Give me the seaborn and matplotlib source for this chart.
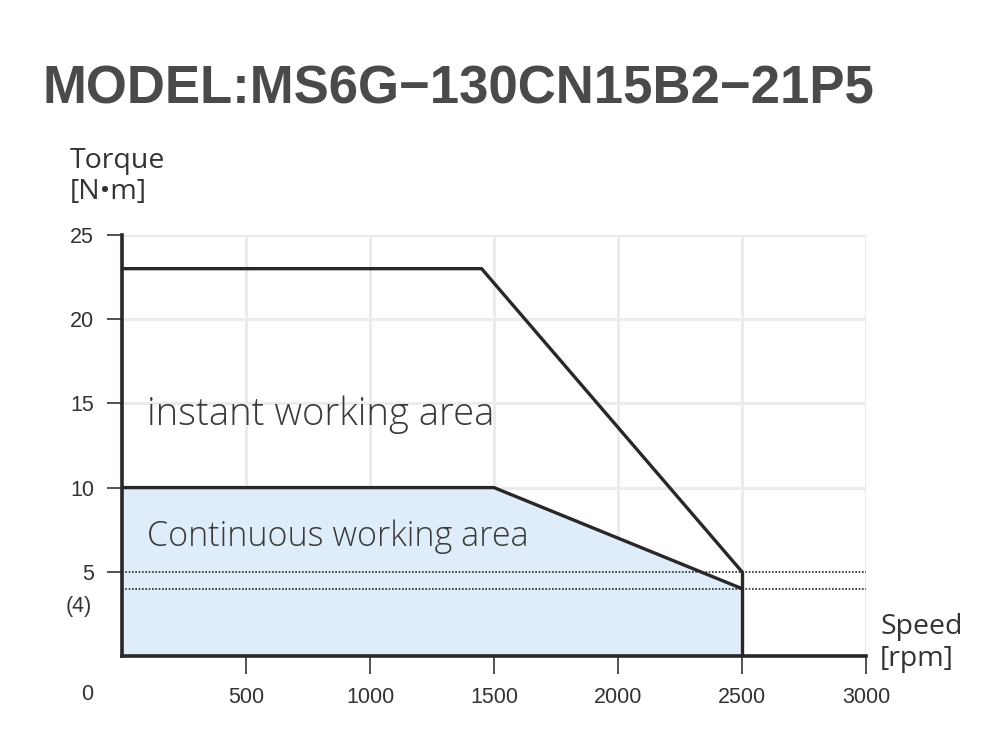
import matplotlib
matplotlib.use("Agg")
import matplotlib.pyplot as plt
import pandas as pd
import seaborn as sns

# données
speed_instant = [0, 1450, 2500]
torque_instant = [23, 23, 5]
speed_cont = [0, 1500, 2500]
torque_cont = [10, 10, 4]
speed_limit = [2500, 2500]
torque_limit = [5, 0]
x_ticks = [500, 1000, 1500, 2000, 2500, 3000]
y_ticks = [5, 10, 15, 20, 25]
title = "MODEL:MS6G\u2212130CN15B2\u221221P5"

line_col = "#2b2627"
txt_col = "#333333"

sns.set_style("white")
plt.rcParams["font.family"] = ["Liberation Sans", "DejaVu Sans"]

fig = plt.figure(figsize=(10.05, 7.51), dpi=100)
ax = fig.add_axes([0.1214, 0.1265, 0.7403, 0.5606])

df_inst = pd.DataFrame({"speed": speed_instant, "torque": torque_instant})
df_cont = pd.DataFrame({"speed": speed_cont, "torque": torque_cont})

# zone continue remplie
ax.fill_between(speed_cont, torque_cont, 0, color="#deedf9", lw=0, zorder=1)

# grille claire
for x in x_ticks:
    ax.axvline(x, color="#ebebeb", lw=2.2, zorder=0)
for y in y_ticks[1:]:
    ax.axhline(y, color="#ebebeb", lw=2.2, zorder=0)

# lignes pointillées 5 et (4)
ax.plot([0, 3000], [5, 5], color=line_col, lw=1.2, ls=(0, (1, 1)), zorder=2)
ax.plot([0, 3000], [4, 4], color=line_col, lw=1.2, ls=(0, (1, 1)), zorder=2)

sns.lineplot(data=df_inst, x="speed", y="torque", ax=ax, color=line_col, lw=2.4,
             sort=False, estimator=None, zorder=3)
sns.lineplot(data=df_cont, x="speed", y="torque", ax=ax, color=line_col, lw=2.4,
             sort=False, estimator=None, zorder=3)
ax.plot(speed_limit, torque_limit, color=line_col, lw=2.4, zorder=3)

ax.set_xlim(0, 3000)
ax.set_ylim(0, 25)
ax.set_xlabel("")
ax.set_ylabel("")

for s in ["top", "right"]:
    ax.spines[s].set_visible(False)
for s in ["left", "bottom"]:
    ax.spines[s].set_color(line_col)
    ax.spines[s].set_linewidth(2.6)
    ax.spines[s].set_zorder(4)

ax.set_xticks(x_ticks)
ax.set_yticks(y_ticks)
ax.tick_params(axis="x", direction="out", length=13, width=1.3, color="#444444",
               pad=9, labelsize=15.5, labelcolor=txt_col, bottom=True)
ax.tick_params(axis="y", direction="out", length=11, width=1.3, color="#444444",
               pad=9, labelsize=15.5, labelcolor=txt_col, left=True)

# étiquettes spéciales
ax.annotate("0", xy=(0, 0), xycoords="data", xytext=(-25, -28), textcoords="offset points",
            ha="center", va="center", fontsize=15.5, color=txt_col)
ax.annotate("(4)", xy=(0, 4), xycoords="data", xytext=(-31, -13), textcoords="offset points",
            ha="center", va="center", fontsize=15.5, color=txt_col)

# titres des axes
fig.text(70 / 1005, 1 - 161 / 751, "Torque", fontsize=20.5, color=txt_col, family="Open Sans",
         ha="left", va="center")
fig.text(70 / 1005, 1 - 192 / 751, "[N\u2022m]", fontsize=20.5, color=txt_col, family="Open Sans",
         ha="left", va="center")
fig.text(880 / 1005, 1 - 627 / 751, "Speed", fontsize=20.5, color=txt_col, family="Open Sans",
         ha="left", va="center")
fig.text(880 / 1005, 1 - 659 / 751, "[rpm]", fontsize=20.5, color=txt_col, family="Open Sans",
         ha="left", va="center")

# zones
ax.text(100, 14.3, "instant working area", fontsize=27.5, color="#3a3a3a", family="Open Sans",
        fontweight="light", ha="left", va="center")
ax.text(100, 7.1, "Continuous working area", fontsize=24.5, color="#3a3a3a", family="Open Sans",
        fontweight="light", ha="left", va="center")

fig.text(42 / 1005, 1 - 90 / 751, title, fontsize=38, fontweight="bold", color="#4a4a4a",
         ha="left", va="center")

fig.savefig("out.png", dpi=100)
